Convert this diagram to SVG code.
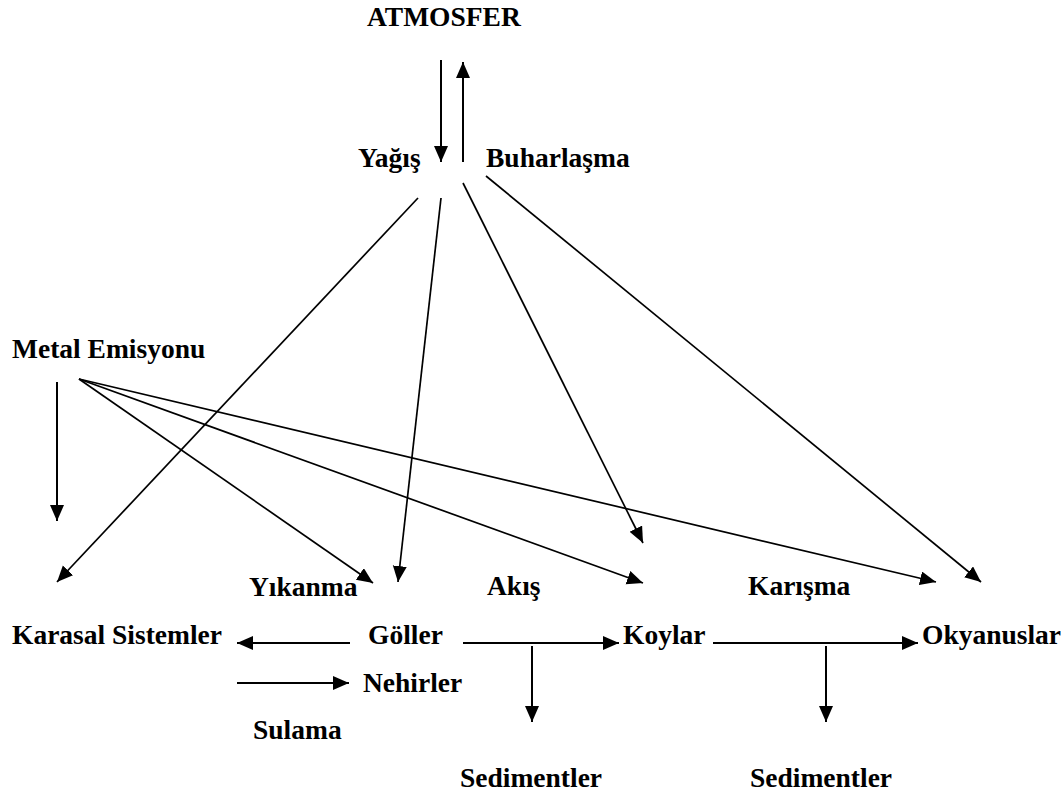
<svg xmlns="http://www.w3.org/2000/svg" width="1063" height="796" viewBox="0 0 1063 796">
<style>
text{font-family:"Liberation Serif","Times New Roman",serif;font-weight:bold;font-size:27.5px;fill:#000}
.c line{stroke:#000;stroke-width:2;fill:none;marker-end:url(#ah)}
.c line.d{stroke-width:1.7}
</style>
<defs>
<marker id="ah" markerUnits="userSpaceOnUse" markerWidth="17" markerHeight="15" refX="16" refY="7" orient="auto">
<path d="M0,0 L16,7 L0,14 z" fill="#000"/>
</marker>
</defs>
<rect width="1063" height="796" fill="#fff"/>
<g id="atmosfer"><text x="367" y="26">ATMOSFER</text></g>
<g id="yagis"><text x="358" y="167">Yağış</text></g>
<g id="buharlasma"><text x="486" y="167">Buharlaşma</text></g>
<g id="metal-emisyonu"><text x="12" y="358">Metal Emisyonu</text></g>
<g id="yikanma"><text x="249" y="596">Yıkanma</text></g>
<g id="akis"><text x="487" y="595">Akış</text></g>
<g id="karisma"><text x="748" y="595">Karışma</text></g>
<g id="karasal"><text x="12" y="644">Karasal Sistemler</text></g>
<g id="goller"><text x="368" y="644">Göller</text></g>
<g id="koylar"><text x="623" y="644">Koylar</text></g>
<g id="okyanuslar"><text x="922" y="644">Okyanuslar</text></g>
<g id="nehirler"><text x="363" y="692">Nehirler</text></g>
<g id="sulama"><text x="253" y="739">Sulama</text></g>
<g id="sedimentler-1"><text x="460" y="787">Sedimentler</text></g>
<g id="sedimentler-2"><text x="750" y="787">Sedimentler</text></g>
<g id="connectors" class="c">
<line x1="441" y1="60" x2="441" y2="162"/>
<line x1="463" y1="162" x2="463" y2="62"/>
<line class="d" x1="418" y1="198" x2="57" y2="582"/>
<line class="d" x1="441" y1="198" x2="398" y2="582"/>
<line class="d" x1="463" y1="183" x2="643" y2="543"/>
<line class="d" x1="486" y1="176" x2="981" y2="582"/>
<line x1="57" y1="382" x2="57" y2="521"/>
<line class="d" x1="79" y1="379" x2="373" y2="583"/>
<line class="d" x1="79" y1="379" x2="643" y2="583"/>
<line class="d" x1="79" y1="379" x2="936" y2="582"/>
<line x1="350" y1="643" x2="237" y2="643"/>
<line x1="237" y1="683" x2="349" y2="683"/>
<line x1="463" y1="643" x2="619" y2="643"/>
<line x1="532" y1="646" x2="532" y2="722"/>
<line x1="713" y1="643" x2="918" y2="643"/>
<line x1="826" y1="646" x2="826" y2="722"/>
</g>
</svg>
